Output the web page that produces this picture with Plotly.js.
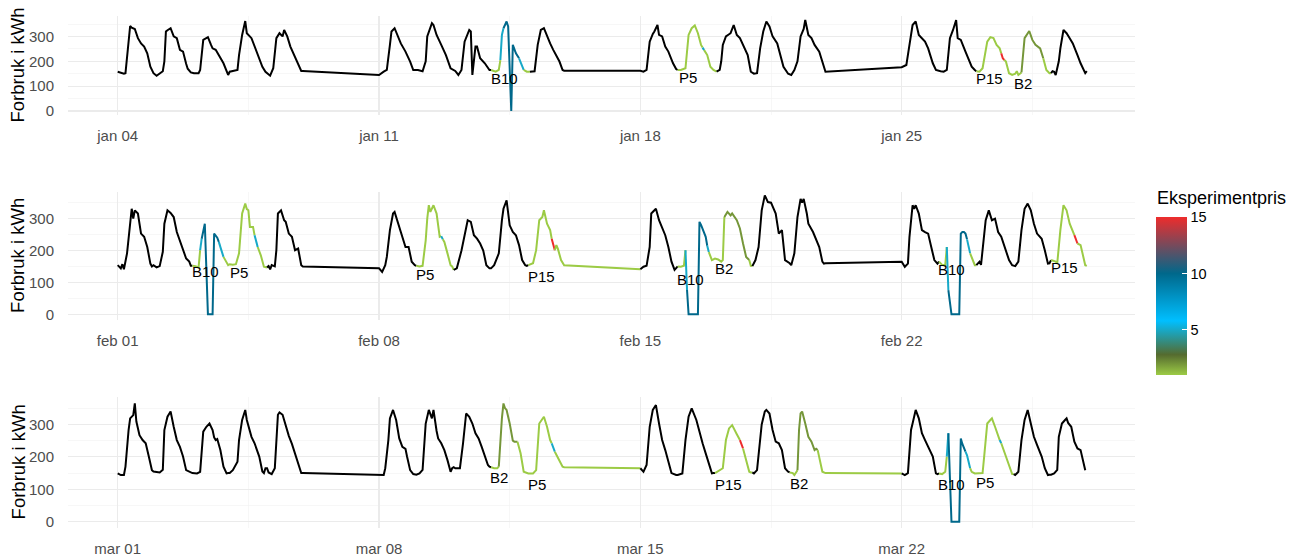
<!DOCTYPE html>
<html>
<head>
<meta charset="utf-8">
<script src="https://cdn.plot.ly/plotly-3.0.1.min.js"></script>
<style>html,body{margin:0;padding:0;background:#fff;}</style>
</head>
<body>
<div id="chart" style="width:1301px;height:558px;"></div>
<script>
// ---------------- DATA ----------------
// Weekdays shown per month panel
const janDays = ['2021-01-04','2021-01-05','2021-01-06','2021-01-07','2021-01-08','2021-01-11','2021-01-12','2021-01-13','2021-01-14','2021-01-15','2021-01-18','2021-01-19','2021-01-20','2021-01-21','2021-01-22','2021-01-25','2021-01-26','2021-01-27','2021-01-28','2021-01-29'];
const janHours = [
 [0,4,5,7,8,9,11,13,15,17,19,21,23],
 [1,3,5,6,7,8,10,12,14,16,18,20,21,23],
 [1,4,5,7,9,10,12,13,15,17,20,23],
 [0,2,5,6,8,10,11,14,16,18,21,23],
 [2,4,6,8,10,11,13,15,17,19,22,23],
 [0,3,5,7,8,10,12,14,17,20,22],
 [1,4,6,7,10,11,13,16,19,22],
 [1,3,5,7,9,10,11,12,14,15,17,20,23],
 [0,3,5,6,7,8,10,11,13,14,15,16,18,20,21,23],
 [1,4,6,7,8,10,12,14,16,18,20,22,23],
 [0,2,4,6,8,9,11,12,14,16,18,21,23],
 [0,2,5,7,9,11,13,15,16,17,19,21,23],
 [1,3,4,5,7,10,12,14,16,18,21,23],
 [1,3,5,7,9,11,13,16,18,20,23],
 [1,3,5,7,9,10,12,14,16,19,21,23],
 [0,3,5,7,9,11,15,17,20,22],
 [1,3,5,7,9,11,12,14,17,19,21,23],
 [0,2,4,7,9,11,13,15,16,17,18,19,21,23],
 [1,2,3,5,7,10,12,14,17,19,21,23],
 [0,1,2,3,5,6,8,10,12,14,17,19,22,23]
];
const janKwh = [
 [158,150,152,293,342,335,330,293,272,259,232,178,152],
 [142,150,160,200,320,325,333,300,293,246,239,190,170,155],
 [152,152,165,286,292,297,266,252,246,225,192,145],
 [158,161,165,225,306,362,313,293,259,225,178,158],
 [142,172,293,313,300,326,300,259,232,199,161,161],
 [145,158,165,266,320,333,300,272,239,199,165],
 [165,160,200,300,353,346,306,266,225,172],
 [161,145,165,279,310,326,320,145,259,259,212,192,165],
 [165,158,165,205,306,333,360,340,0,266,246,232,212,185,165,158],
 [158,160,266,300,326,333,300,272,246,225,199,165,162],
 [162,158,165,279,310,320,346,306,300,259,239,192,169],
 [165,165,172,306,333,344,313,266,255,245,225,178,165],
 [158,165,200,266,300,313,346,306,293,266,225,158],
 [150,152,252,320,360,340,300,272,225,178,150],
 [145,165,200,300,330,366,306,293,266,239,199,158],
 [176,185,266,346,360,306,279,252,192,165],
 [160,158,165,293,326,366,293,286,239,205,178,165],
 [160,158,172,279,297,293,266,252,232,212,205,199,152,145],
 [150,160,145,155,293,322,286,266,252,212,165,152],
 [152,160,158,145,200,252,326,313,293,272,225,192,152,160]
];
const janPrice = [
 null,null,null,null,null,
 null,null,null,
 [1,1,1,5,5,10,10,10,10,10,10,10,5,5,1,1],
 null,
 null,
 [1,1,1,1,1,1,1,1,5,1,1,1,1],
 null,null,null,
 null,null,
 [1,1,1,1,1,1,1,1,15,15,1,1,1,1],
 [1,1,1,2,2,2,2,2,2,1,1,1],
 null
];
const janLabelText = ['B10','P5','P15','B2'];
const janLabelTime = ['2021-01-14 08:24','2021-01-19 06:18','2021-01-27 08:42','2021-01-28 05:42'];
const janLabelKwh = [129,134,131,109];

const febDays = ['2021-02-01','2021-02-02','2021-02-03','2021-02-04','2021-02-05','2021-02-08','2021-02-09','2021-02-10','2021-02-11','2021-02-12','2021-02-15','2021-02-16','2021-02-17','2021-02-18','2021-02-19','2021-02-22','2021-02-23','2021-02-24','2021-02-25','2021-02-26'];
const febHours = [
 [0,2,3,4,6,8,9,10,11,13,15,17,19,21,22,23],
 [1,3,5,6,8,10,12,14,16,18,20,22,23],
 [0,2,4,5,6,8,10,13,14,15,16,17,18,20,22,23],
 [0,2,4,6,8,9,10,11,12,13,15,16,17,18,20,22,23],
 [0,1,2,3,5,6,7,9,11,12,14,16,18,20,22,23],
 [0,2,4,5,7,9,10,11,13,15,17,19,21,23],
 [0,2,4,6,7,8,9,10,11,13,14,15,16,17,18,20,22,23],
 [0,2,5,7,9,11,13,15,17,19,21,23],
 [0,2,5,7,8,10,12,14,16,18,20,22,23],
 [0,3,5,7,9,10,12,14,15,16,17,18,19,21,23],
 [0,2,4,6,7,9,10,12,14,16,18,20,22,23],
 [0,2,4,5,6,7,13,14,15,16,17,18,19,20,21,22,23],
 [0,2,4,5,6,8,10,11,14,16,18,20,22,23],
 [0,2,4,6,8,10,12,15,17,19,21,23],
 [0,1,3,5,7,8,9,11,12,15,17,19,21,22,23],
 [0,2,4,5,7,8,9,11,13,15,17,19,21,23],
 [0,2,4,5,6,8,13,14,15,16,17,18,19,20,22,23],
 [0,2,3,4,6,8,10,12,14,16,18,21,23],
 [1,3,5,7,9,11,13,15,18,20,22,23],
 [0,3,4,6,8,10,12,14,15,16,17,19,20,22,23]
];
const febKwh = [
 [154,144,157,141,191,284,331,300,326,316,253,243,211,159,150,154],
 [147,151,196,284,326,318,305,258,232,201,175,165,152],
 [152,151,147,201,237,284,0,0,253,248,240,227,210,180,159,154],
 [157,155,157,191,316,336,347,330,326,274,274,248,230,211,185,149,147],
 [147,151,141,154,150,201,316,326,295,290,253,243,201,206,154,150],
 [144,133,154,180,264,316,321,305,269,243,211,211,165,154],
 [152,150,152,232,300,342,321,330,342,316,270,243,245,235,227,191,154,150],
 [139,144,200,253,295,290,248,237,222,200,154,144],
 [144,154,191,295,331,357,279,258,248,217,170,154,152],
 [154,160,201,295,305,326,284,264,237,215,201,217,205,170,154],
 [141,149,152,211,316,326,331,295,269,248,211,165,139,144],
 [150,149,152,201,76,0,0,290,280,269,255,243,215,195,180,170,172],
 [175,172,165,170,305,321,310,316,295,269,222,180,170,152],
 [151,170,211,326,373,352,350,316,253,264,170,165],
 [160,154,191,305,362,350,362,316,284,258,232,211,165,159,160],
 [165,149,159,243,342,331,342,316,264,258,253,211,170,159],
 [165,155,154,211,76,0,0,253,258,258,253,235,210,191,165,154],
 [154,165,155,200,295,326,295,300,258,243,211,170,154],
 [151,165,264,331,347,326,284,253,237,201,159,160],
 [170,165,160,264,342,326,284,258,248,235,222,217,196,154,152]
];
const febPrice = [
 null,null,
 [1,1,1,5,10,10,10,10,10,10,10,5,5,1,1,1],
 [1,1,1,1,1,1,1,1,1,1,1,5,5,1,1,1,1],
 null,
 null,
 [1,1,1,1,1,1,1,1,1,1,1,1,5,1,1,1,1,1],
 null,null,
 [1,1,1,1,1,1,1,1,15,15,1,1,1,1,1],
 null,
 [1,1,1,5,10,10,10,10,10,10,10,10,5,1,1,1,1],
 [1,1,1,1,2,2,2,2,2,2,2,2,1,1],
 null,null,
 null,
 [1,1,1,5,10,10,10,10,10,10,10,5,5,1,1,1],
 null,null,
 [1,1,1,1,1,1,1,1,15,15,1,1,1,1,1]
];
const febLabelText = ['B10','P5','P5','P15','B10','B2','B10','P15'];
const febLabelTime = ['2021-02-03 08:30','2021-02-04 06:00','2021-02-09 05:48','2021-02-12 08:30','2021-02-16 08:30','2021-02-17 05:30','2021-02-23 08:06','2021-02-26 08:24'];
const febLabelKwh = [133,130,126,120,110,144,141,147];

const marDays = ['2021-03-01','2021-03-02','2021-03-03','2021-03-04','2021-03-05','2021-03-08','2021-03-09','2021-03-10','2021-03-11','2021-03-12','2021-03-15','2021-03-16','2021-03-17','2021-03-18','2021-03-19','2021-03-22','2021-03-23','2021-03-24','2021-03-25','2021-03-26'];
const marHours = [
 [0,2,4,5,7,8,10,11,12,14,16,18,20,22,23],
 [0,3,5,6,8,10,12,14,16,18,20,23],
 [0,3,5,7,9,11,12,13,14,15,16,18,20,22,23],
 [0,2,5,6,8,10,11,14,16,19,21,22,23],
 [0,1,3,5,7,8,10,12,14,16,18,20,22,23],
 [0,3,4,6,7,9,11,13,15,17,18,20,22,23],
 [0,2,4,6,8,10,11,13,14,16,18,20,22,23],
 [0,1,4,6,8,10,12,14,16,18,20,22,23],
 [0,2,4,5,6,7,8,9,10,12,14,15,17,19,21,23],
 [0,3,5,7,9,10,12,14,15,16,17,20,22,23],
 [0,2,4,5,6,8,10,12,14,16,18,20,23],
 [0,3,5,7,9,12,14,16,18,20,22,23],
 [0,3,5,7,9,11,12,14,16,17,18,20,22,23],
 [0,1,3,5,6,8,9,11,13,15,17,19,21,23],
 [0,2,3,5,6,7,8,10,12,14,16,17,18,19,21,23],
 [0,2,4,6,7,9,11,13,15,18,20,22,23],
 [0,2,4,5,6,7,8,13,14,15,16,17,18,19,20,21,23],
 [0,2,4,5,7,9,10,12,14,15,16,18,20,21,23],
 [0,1,3,5,7,9,11,13,15,18,20,22,23],
 [0,2,4,5,7,9,10,11,13,15,17,19,21,22]
];
const marKwh = [
 [149,144,144,170,283,319,329,365,309,267,252,242,201,159,155],
 [154,152,160,283,324,340,293,252,231,201,159,152],
 [150,149,154,278,293,303,290,283,260,252,255,221,170,149,150],
 [150,159,185,252,314,345,314,262,242,201,155,150,165],
 [165,152,147,165,330,337,330,295,265,240,210,175,150,150],
 [144,144,165,252,319,345,314,257,231,225,201,159,147,145],
 [145,149,160,303,345,319,345,280,257,242,221,190,154,165],
 [168,165,165,242,334,324,303,273,257,231,205,175,170],
 [168,165,165,170,252,320,365,350,345,303,250,247,247,211,154,149],
 [149,149,159,303,319,324,293,252,242,230,216,190,170,168],
 [165,154,175,250,293,345,360,303,252,221,185,150,144],
 [144,149,252,324,350,314,273,242,211,180,149,150],
 [150,159,165,252,288,298,290,270,252,235,226,185,154,152],
 [152,149,159,250,300,340,345,334,283,247,242,221,165,154],
 [152,150,144,159,283,334,340,303,262,247,221,225,221,200,154,150],
 [149,144,150,283,303,345,319,273,252,221,201,149,147],
 [149,147,154,201,273,98,0,0,257,240,226,216,205,185,165,154,149],
 [149,149,150,200,303,314,319,293,262,252,242,215,185,170,147],
 [147,144,154,252,314,345,303,262,237,201,165,144,145],
 [145,149,160,262,303,314,319,305,293,247,226,221,180,159]
];
const marPrice = [
 null,null,null,null,null,
 null,null,null,
 [1,1,1,2,2,2,2,2,2,2,2,2,1,1,1,1],
 [1,1,1,1,1,1,1,1,5,5,1,1,1,1],
 null,null,
 [1,1,1,1,1,1,1,1,15,15,1,1,1,1],
 null,
 [1,1,1,2,2,2,2,2,2,2,2,2,1,1,1,1],
 null,
 [1,1,1,5,10,10,10,10,10,10,10,5,5,5,1,1,1],
 [1,1,1,1,1,1,1,1,1,5,1,1,1,1,1],
 null,null
];
const marLabelText = ['B2','P5','P15','B2','B10','P5'];
const marLabelTime = ['2021-03-11 05:24','2021-03-12 05:18','2021-03-17 08:42','2021-03-19 05:42','2021-03-23 08:06','2021-03-24 05:24'];
const marLabelKwh = [137,116,116,118,115,122];

// Axis ticks
const janTicks = ['2021-01-04','2021-01-11','2021-01-18','2021-01-25'];
const janTickText = ['jan 04','jan 11','jan 18','jan 25'];
const febTicks = ['2021-02-01','2021-02-08','2021-02-15','2021-02-22'];
const febTickText = ['feb 01','feb 08','feb 15','feb 22'];
const marTicks = ['2021-03-01','2021-03-08','2021-03-15','2021-03-22'];
const marTickText = ['mar 01','mar 08','mar 15','mar 22'];
const yTicks = [0,100,200,300];
const yMinorTicks = [50,150,250,350];

// Colour scale (price -> colour)
const priceStops = [1, 2.8, 5.8, 10, 15];
const priceColors = ['#9CCB45', '#556B2F', '#00BFFF', '#00688B', '#EE2C2C'];
const priceMin = 1, priceMax = 15;
const legendTitle = 'Eksperimentpris';

// ---------------- BUILD ----------------
const FONT = 'Liberation Sans, Arial, Helvetica, sans-serif';
const W = 1301, H = 558;

function hexToRgb(h) {
  return [parseInt(h.slice(1,3),16), parseInt(h.slice(3,5),16), parseInt(h.slice(5,7),16)];
}
function priceColor(p) {
  if (p === null || p === undefined) return '#000000';
  if (p <= priceStops[0]) return priceColors[0];
  for (let k = 1; k < priceStops.length; k++) {
    if (p <= priceStops[k]) {
      const f = (p - priceStops[k-1]) / (priceStops[k] - priceStops[k-1]);
      const a = hexToRgb(priceColors[k-1]), b = hexToRgb(priceColors[k]);
      const c = a.map((v, i) => Math.round(v + (b[i] - v) * f));
      return 'rgb(' + c.join(',') + ')';
    }
  }
  return priceColors[priceColors.length - 1];
}
function pad(n) { return (n < 10 ? '0' : '') + n; }

const months = [
  {days: janDays, hours: janHours, kwh: janKwh, price: janPrice, lt: janLabelText, lx: janLabelTime, ly: janLabelKwh, ticks: janTicks, tickText: janTickText,
   range: ['2021-01-02 16:03', '2021-01-31 05:59'], minor: ['2021-01-07 12:00','2021-01-14 12:00','2021-01-21 12:00','2021-01-28 12:00'], top: 15.55, bottom: 115.47},
  {days: febDays, hours: febHours, kwh: febKwh, price: febPrice, lt: febLabelText, lx: febLabelTime, ly: febLabelKwh, ticks: febTicks, tickText: febTickText,
   range: ['2021-01-30 16:03', '2021-02-28 05:59'], minor: ['2021-02-04 12:00','2021-02-11 12:00','2021-02-18 12:00','2021-02-25 12:00'], top: 191.85, bottom: 320.0},
  {days: marDays, hours: marHours, kwh: marKwh, price: marPrice, lt: marLabelText, lx: marLabelTime, ly: marLabelKwh, ticks: marTicks, tickText: marTickText,
   range: ['2021-02-27 16:03', '2021-03-28 05:59'], minor: ['2021-03-04 12:00','2021-03-11 12:00','2021-03-18 12:00','2021-03-25 12:00'], top: 397.3, bottom: 527.5}
];

const traces = [];
const annotations = [];
const layout = {
  width: W, height: H,
  margin: {l: 0, r: 0, t: 0, b: 0},
  paper_bgcolor: '#ffffff', plot_bgcolor: '#ffffff',
  showlegend: false,
  font: {family: FONT, color: '#000'},
  annotations: annotations
};

months.forEach((m, mi) => {
  const sfx = mi === 0 ? '' : String(mi + 1);
  const xa = 'x' + sfx, ya = 'y' + sfx;
  const t = [], v = [], p = [];
  m.days.forEach((d, di) => {
    m.hours[di].forEach((h, j) => {
      t.push(d + ' ' + pad(h) + ':00');
      v.push(m.kwh[di][j]);
      p.push(m.price[di] ? m.price[di][j] : null);
    });
  });
  const n = t.length;
  let runStart = 0;
  for (let i = 1; i < n; i++) {
    const cRun = priceColor(p[runStart]);
    if (i === n - 1 || priceColor(p[i]) !== cRun) {
      traces.push({
        type: 'scatter', mode: 'lines',
        x: t.slice(runStart, i + 1), y: v.slice(runStart, i + 1),
        xaxis: xa, yaxis: ya,
        line: {color: cRun, width: 2, shape: 'linear'},
        hoverinfo: 'skip', showlegend: false
      });
      runStart = i;
    }
  }

  const xKey = 'xaxis' + sfx, yKey = 'yaxis' + sfx;
  layout[xKey] = {
    type: 'date', anchor: ya,
    domain: [68 / W, 1135 / W],
    range: m.range,
    tickmode: 'array', tickvals: m.ticks, ticktext: m.tickText,
    tickfont: {family: FONT, size: 15, color: '#4D4D4D'},
    ticks: 'outside', ticklen: 7, tickcolor: 'rgba(0,0,0,0)',
    showgrid: true, gridcolor: '#EBEBEB', gridwidth: 1.1,
    minor: {tickmode: 'array', tickvals: m.minor, showgrid: true, gridcolor: '#F1F1F1', gridwidth: 0.6, ticks: ''},
    zeroline: false, showline: false, fixedrange: true
  };
  layout[yKey] = {
    anchor: xa,
    domain: [1 - m.bottom / H, 1 - m.top / H],
    range: [-18, 384],
    tickmode: 'array', tickvals: yTicks,
    tickfont: {family: FONT, size: 15, color: '#4D4D4D'},
    ticks: 'outside', ticklen: 10, tickcolor: 'rgba(0,0,0,0)',
    showgrid: true, gridcolor: '#EBEBEB', gridwidth: 1.1,
    minor: {tickmode: 'array', tickvals: yMinorTicks, showgrid: true, gridcolor: '#F1F1F1', gridwidth: 0.6, ticks: ''},
    zeroline: false, showline: false, fixedrange: true
  };

  annotations.push({
    xref: 'paper', yref: 'paper',
    x: 18 / W, y: 1 - ((m.top + m.bottom) / 2) / H,
    text: 'Forbruk i kWh', textangle: -90, showarrow: false,
    xanchor: 'center', yanchor: 'middle',
    font: {family: FONT, size: 18.5, color: '#000'}
  });

  m.lt.forEach((txt, k) => {
    annotations.push({
      xref: xa, yref: ya, x: m.lx[k], y: m.ly[k],
      text: txt, showarrow: false, xanchor: 'center', yanchor: 'middle',
      font: {family: FONT, size: 15, color: '#000'}
    });
  });
});

// legend title
annotations.push({
  xref: 'paper', yref: 'paper', x: 1155 / W, y: 1 - 198 / H,
  text: legendTitle, showarrow: false, xanchor: 'left', yanchor: 'middle',
  font: {family: FONT, size: 18, color: '#000'}
});

// colour bar (legend)
const cbScale = priceStops.map((s, i) => [(s - priceMin) / (priceMax - priceMin), priceColors[i]]);
traces.push({
  type: 'scatter', mode: 'markers', x: [null], y: [null], xaxis: 'x', yaxis: 'y',
  hoverinfo: 'skip', showlegend: false,
  marker: {
    color: [priceMin], cmin: priceMin, cmax: priceMax, colorscale: cbScale, showscale: true, opacity: 0,
    colorbar: {
      thicknessmode: 'pixels', thickness: 31,
      lenmode: 'pixels', len: 158,
      x: 1155.7 / W, xanchor: 'left', xpad: 0,
      y: 1 - 375 / H, yanchor: 'bottom', ypad: 0,
      tickmode: 'array', tickvals: [5, 10, 15],
      ticks: 'inside', ticklen: 5, tickcolor: '#ffffff', tickwidth: 1,
      tickfont: {family: FONT, size: 14.5, color: '#000'},
      outlinewidth: 0, bgcolor: 'rgba(0,0,0,0)'
    }
  }
});

Plotly.newPlot('chart', traces, layout, {displayModeBar: false, staticPlot: true});
</script>
</body>
</html>
